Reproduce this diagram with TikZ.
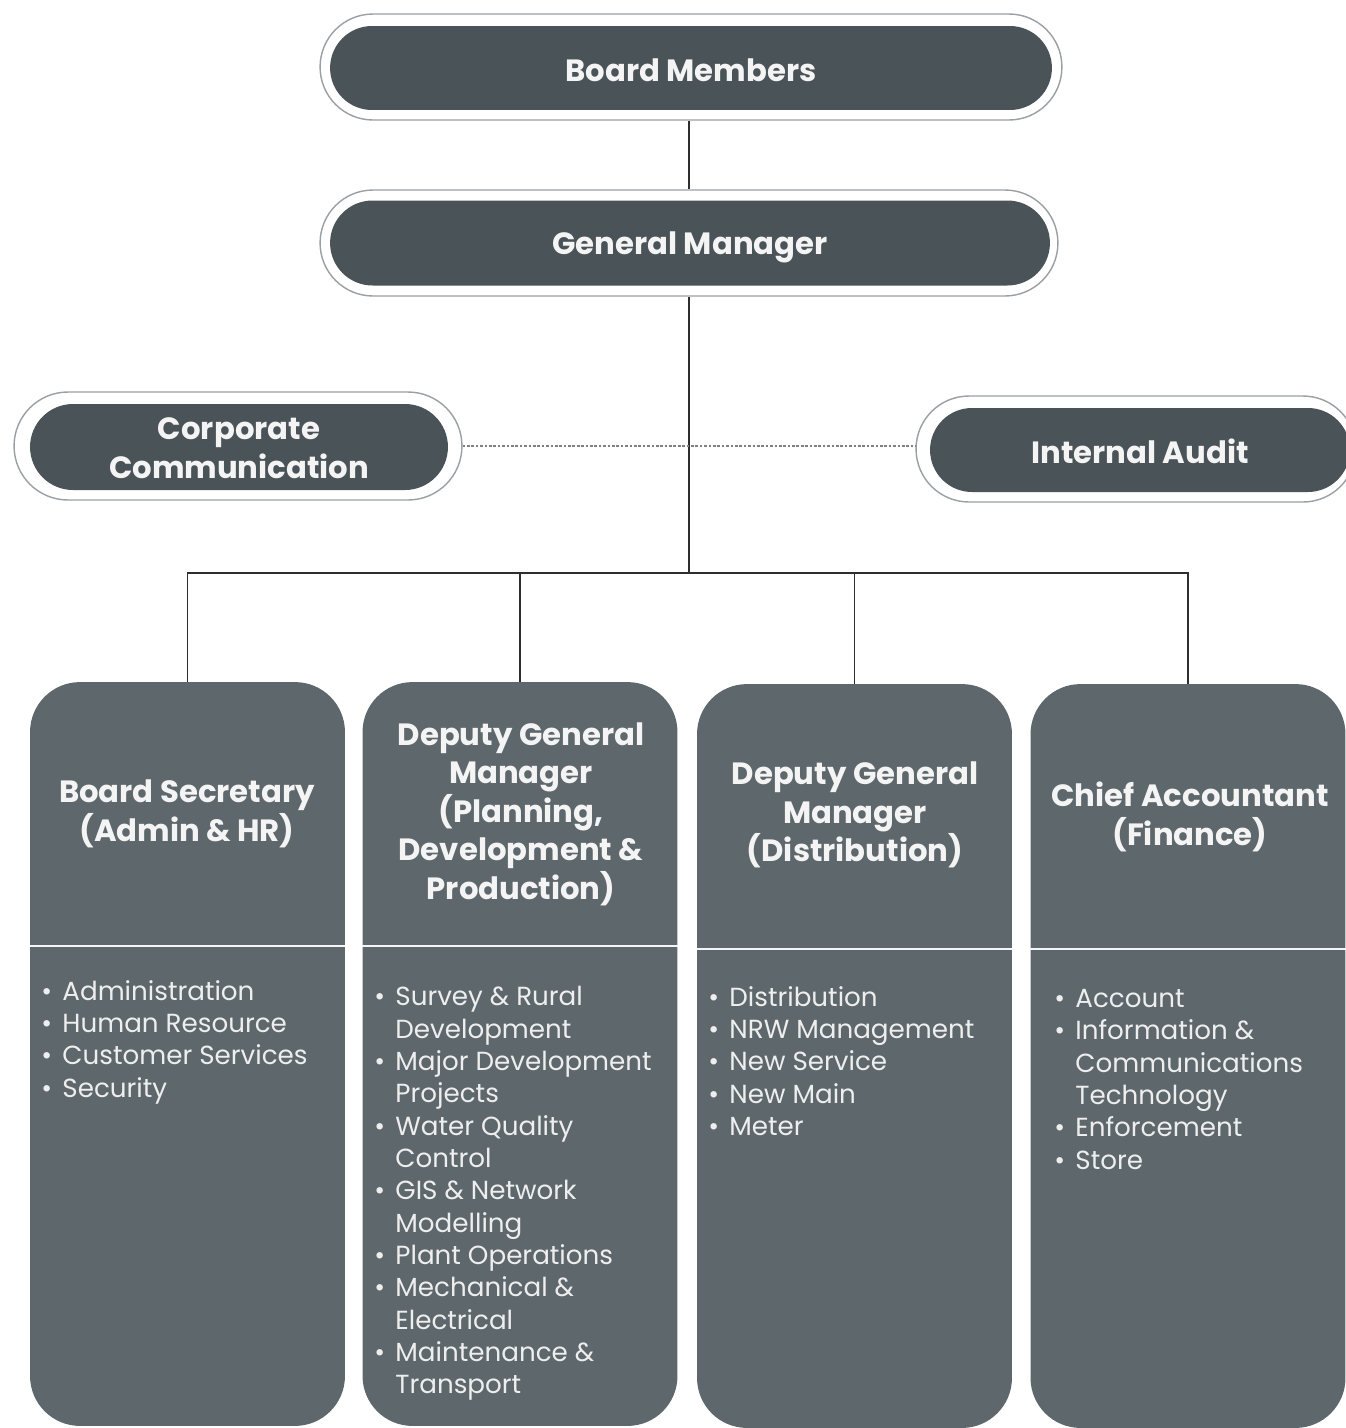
\documentclass[tikz,border=0pt]{standalone}
\usepackage{fontspec}
\setmainfont{Poppins}
\definecolor{topfill}{HTML}{4A5357}
\definecolor{deptfill}{HTML}{5E686C}
\definecolor{outl}{HTML}{9A9FA2}
\definecolor{txtw}{HTML}{F4F4F4}
\definecolor{linec}{HTML}{2E2E2E}
\newcommand\itm[1]{\makebox[12pt][l]{\textbullet}#1}
\newcommand\cnt[1]{\hspace*{12pt}#1}
\begin{document}
\begin{tikzpicture}[x=0.02cm,y=-0.02cm,
  outerpill/.style={draw=outl, line width=0.8pt, fill=white, rectangle, inner sep=0pt},
  innerpill/.style={fill=topfill, rectangle, inner sep=0pt, text=txtw, align=center,
     font=\fontsize{17.5}{21.8}\selectfont\bfseries},
  deptbox/.style={fill=deptfill, rectangle, rounded corners=1cm, inner sep=0pt,
     minimum width=6.3cm, minimum height=14.88cm},
  head/.style={text=txtw, align=center, inner sep=0pt, font=\fontsize{17.5}{21.9}\selectfont\bfseries},
  items/.style={text=txtw!95!gray, align=left, inner sep=0pt, anchor=north west,
     font=\fontsize{14.9}{18.4}\selectfont},
  conn/.style={draw=linec, line width=1.1pt},
  divider/.style={draw=white!92!gray, line width=1.6pt}
]
\useasboundingbox (0,0) rectangle (1346,1428);
\clip (0,0) rectangle (1346,1428);

% top pills
\node[outerpill, minimum width=14.84cm, minimum height=2.12cm, rounded corners=1.06cm] (bmo) at (691,67) {};
\node[innerpill, minimum width=14.44cm, minimum height=1.68cm, rounded corners=0.84cm] (bm) at (691,68) {};
\node[text=txtw, inner sep=0pt, font=\fontsize{17.5}{21.8}\selectfont\bfseries] (bmt) at (691,70) {Board Members};
\node[outerpill, minimum width=14.76cm, minimum height=2.12cm, rounded corners=1.06cm] (gmo) at (689,243) {};
\node[innerpill, minimum width=14.4cm, minimum height=1.7cm, rounded corners=0.85cm] (gm) at (690,243) {};
\node[text=txtw, inner sep=0pt, font=\fontsize{17.5}{21.8}\selectfont\bfseries] (gmt) at (690,247) {General Manager};

% side pills
\node[outerpill, minimum width=8.96cm, minimum height=2.16cm, rounded corners=1.08cm] (cco) at (238,446) {};
\node[innerpill, minimum width=8.36cm, minimum height=1.72cm, rounded corners=0.86cm] (cc) at (239,447) {};
\node[head] (cct) at (239,448) {Corporate\\Communication};
\node[outerpill, minimum width=8.8cm, minimum height=2.12cm, rounded corners=1.06cm] (iao) at (1136,449) {};
\node[innerpill, minimum width=8.4cm, minimum height=1.68cm, rounded corners=0.84cm] (ia) at (1140,450) {};
\node[head] (iat) at (1140,451) {Internal Audit};

% department boxes
\node[deptbox] (d1) at (187.5,1054) {};
\node[deptbox] (d2) at (520,1054) {};
\node[deptbox] (d3) at (854.5,1056) {};
\node[deptbox] (d4) at (1188,1056) {};

\coordinate (dv1) at (0,946);
\coordinate (dv2) at (0,949);
\draw[divider] (d1.west |- dv1) -- (d1.east |- dv1);
\draw[divider] (d2.west |- dv1) -- (d2.east |- dv1);
\draw[divider] (d3.west |- dv2) -- (d3.east |- dv2);
\draw[divider] (d4.west |- dv2) -- (d4.east |- dv2);

% headings
\node[head] (h1) at (187,814) {Board Secretary\\(Admin \& HR)};
\node[head] (h2) at (521,814) {Deputy General\\Manager\\(Planning,\\Development \&\\Production)};
\node[head] (h3) at (855,815) {Deputy General\\Manager\\(Distribution)};
\node[head] (h4) at (1190,817) {Chief Accountant\\(Finance)};

% item lists
\node[items] (l1) at (41,980) {\itm{Administration}\\\itm{Human Resource}\\\itm{Customer Services}\\\itm{Security}};
\node[items] (l2) at (374,986) {\itm{Survey \& Rural}\\\cnt{Development}\\\itm{Major Development}\\\cnt{Projects}\\\itm{Water Quality}\\\cnt{Control}\\\itm{GIS \& Network}\\\cnt{Modelling}\\\itm{Plant Operations}\\\itm{Mechanical \&}\\\cnt{Electrical}\\\itm{Maintenance \&}\\\cnt{Transport}};
\node[items] (l3) at (708,986) {\itm{Distribution}\\\itm{NRW Management}\\\itm{New Service}\\\itm{New Main}\\\itm{Meter}};
\node[items] (l4) at (1054,989) {\itm{Account}\\\itm{Information \&}\\\cnt{Communications}\\\cnt{Technology}\\\itm{Enforcement}\\\itm{Store}};

% connectors
\coordinate (bus) at (689,573);
\draw[conn] (gmo.north |- bmo.south) -- (gmo.north);
\draw[conn] (gmo.south) -- (bus);
\draw[conn] (bus) -| (d1.north);
\draw[conn] (bus) -| (d2.north);
\draw[conn] (bus) -| (d3.north);
\draw[conn] (bus) -| (d4.north);
\draw[draw=gray, line width=0.7pt, dash pattern=on 1.5pt off 1pt] (cco.east) -- (cco.east -| iao.west);
\end{tikzpicture}
\end{document}
